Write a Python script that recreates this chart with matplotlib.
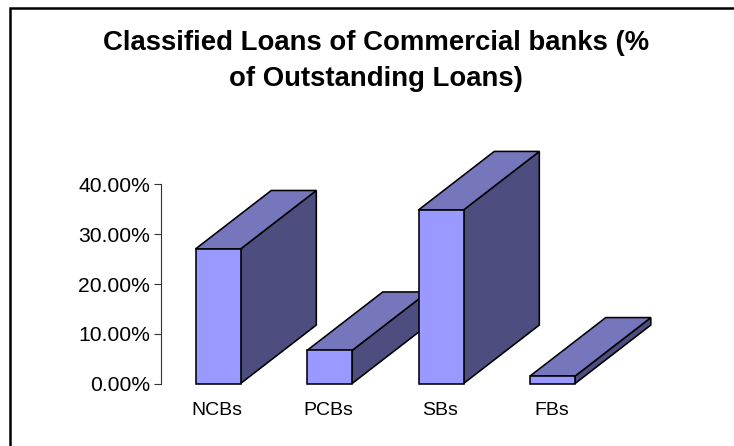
import matplotlib
matplotlib.use('Agg')
import matplotlib.pyplot as plt
from matplotlib.lines import Line2D
from matplotlib.patches import Polygon

plt.rcParams['font.family'] = ['Liberation Sans', 'DejaVu Sans']

categories = ['NCBs', 'PCBs', 'SBs', 'FBs']
values = [27.05, 6.65, 34.9, 1.5]
y_ticks = [0, 10, 20, 30, 40]
y_tick_labels = ['0.00%', '10.00%', '20.00%', '30.00%', '40.00%']
title = 'Classified Loans of Commercial banks (%\nof Outstanding Loans)'

W, H = 734, 446
fig = plt.figure(figsize=(W / 100, H / 100), dpi=100, facecolor='white')

# 绘图区 (像素换算成比例)
ax = fig.add_axes([161 / W, 1 - 383.5 / H, 446 / W, 199 / H])
ax.set_xlim(-0.5, 3.5)
ax.set_ylim(0, 40)
ax.patch.set_visible(False)

half_w = 0.202   # 柱子半宽
bar_shift = 0.012  # 柱子相对刻度的偏移
depth_x = 0.679  # 立体进深
depth_y = 11.75

front_c = '#9999FF'
top_c = '#7676BC'
side_c = '#4D4D7F'

# 从左到右画，后面的柱子盖住前面的
for i, v in enumerate(values):
    x0, x1 = i + bar_shift - half_w, i + bar_shift + half_w
    side = [(x1, 0), (x1 + depth_x, depth_y), (x1 + depth_x, v + depth_y), (x1, v)]
    top = [(x0, v), (x0 + depth_x, v + depth_y), (x1 + depth_x, v + depth_y), (x1, v)]
    front = [(x0, 0), (x1, 0), (x1, v), (x0, v)]
    for pts, c in ((side, side_c), (top, top_c), (front, front_c)):
        ax.add_patch(Polygon(pts, closed=True, facecolor=c, edgecolor='black',
                             linewidth=1.15, joinstyle='miter', clip_on=False, zorder=3))

# 坐标轴
for s in ['top', 'right', 'bottom']:
    ax.spines[s].set_visible(False)
ax.spines['left'].set_linewidth(0.8)
ax.spines['left'].set_color('#333333')
ax.set_yticks(y_ticks)
ax.set_yticklabels(y_tick_labels, fontsize=15.2)
ax.tick_params(axis='y', length=5, width=0.8, color='#333333', pad=3)
ax.set_xticks(range(len(categories)))
ax.set_xticklabels(categories, fontsize=14)
ax.tick_params(axis='x', length=0, pad=13)

# 标题
fig.text(376 / W, 1 - 61 / H, title, fontsize=19.8, fontweight='bold', ha='center',
         va='center', linespacing=1.54)

# 图表外框
fig.add_artist(Line2D([10 / W, 10 / W, 1], [0, 1 - 8 / H, 1 - 8 / H], color='black',
                      linewidth=1.8, solid_joinstyle='miter'))

fig.savefig('out.png', dpi=100)
